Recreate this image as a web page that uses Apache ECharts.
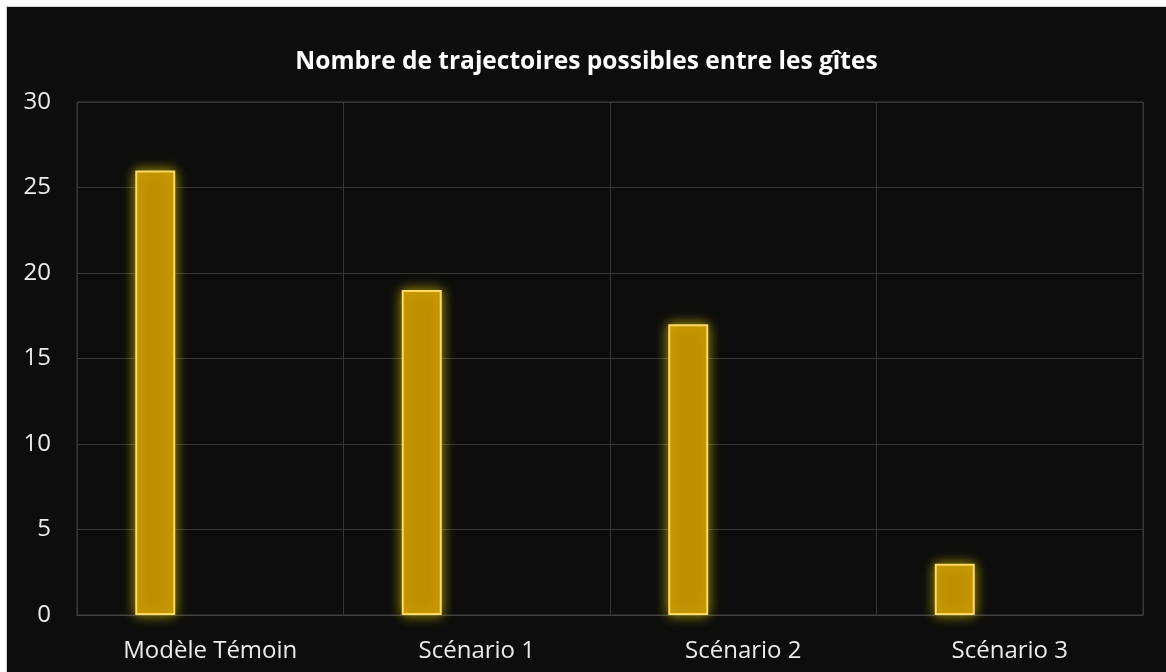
<!DOCTYPE html>
<html><head><meta charset="utf-8">
<script src="https://cdn.jsdelivr.net/npm/echarts@6/dist/echarts.min.js"></script>
<style>
html,body{margin:0;padding:0;background:#fff;}
#c{position:absolute;left:7px;top:7px;width:1159px;height:665px;background:#0d0d0d;}
#edge{position:absolute;left:6px;top:6px;width:1160px;height:666px;background:#d4d4d4;}
</style></head>
<body><div id="edge"></div><div id="c"></div>
<script>
const title = "Nombre de trajectoires possibles entre les gîtes";
const categories = ["Modèle Témoin", "Scénario 1", "Scénario 2", "Scénario 3"];
const values = [26, 19, 17, 3];
const emptySeries = [null, null, null, null];
const yTicks = {min: 0, max: 30, interval: 5};

const font = "'Open Sans', 'Noto Sans', sans-serif";
const chart = echarts.init(document.getElementById('c'), null, {renderer: 'canvas'});
chart.setOption({
  backgroundColor: '#0d0d0d',
  animation: false,
  title: {
    text: title, left: 'center', top: 38,
    textStyle: {color: '#ffffff', fontSize: 24.5, fontWeight: 'bold', fontFamily: font}
  },
  grid: {left: 70, right: 23, top: 95, bottom: 57, show: true, borderColor: '#404040', borderWidth: 1, containLabel: false},
  xAxis: {
    type: 'category', data: categories,
    axisLine: {show: true, lineStyle: {color: '#404040'}},
    axisTick: {show: false},
    splitLine: {show: true, lineStyle: {color: '#363636'}},
    axisLabel: {color: '#ebebeb', fontSize: 24, fontFamily: font, margin: 24}
  },
  yAxis: {
    type: 'value', min: yTicks.min, max: yTicks.max, interval: yTicks.interval,
    axisLine: {show: false},
    axisTick: {show: false},
    splitLine: {show: true, lineStyle: {color: '#363636'}},
    axisLabel: {color: '#ebebeb', fontSize: 24, fontFamily: font, margin: 26}
  },
  series: [
    {
      type: 'bar', data: values, barWidth: 40, barGap: '175%',
      itemStyle: {color: '#bf9000', borderColor: '#ffd966', borderWidth: 2,
        shadowColor: 'rgba(230,210,0,0.7)', shadowBlur: 12}
    },
    {type: 'bar', data: emptySeries, barWidth: 40}
  ]
});
</script></body></html>
